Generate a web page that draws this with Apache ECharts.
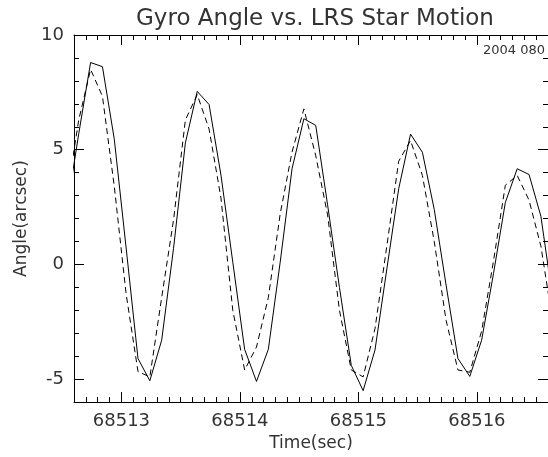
<!DOCTYPE html>
<html>
<head>
<meta charset="utf-8">
<script src="https://cdn.jsdelivr.net/npm/echarts@6/dist/echarts.min.js"></script>
<style>
html,body{margin:0;padding:0;background:#fff;}
#chart{width:548px;height:457px;}
</style>
</head>
<body>
<div id="chart"></div>
<script>
// Time samples (sec)
const times = [
  68512.54, 68512.64, 68512.74, 68512.84, 68512.94,
  68513.04, 68513.14, 68513.24, 68513.34, 68513.44,
  68513.54, 68513.64, 68513.74, 68513.84, 68513.94,
  68514.04, 68514.14, 68514.24, 68514.34, 68514.44,
  68514.54, 68514.64, 68514.74, 68514.84, 68514.94,
  68515.04, 68515.14, 68515.24, 68515.34, 68515.44,
  68515.54, 68515.64, 68515.74, 68515.84, 68515.94,
  68516.04, 68516.14, 68516.24, 68516.34, 68516.44,
  68516.54, 68516.64
];
// Gyro angle (solid line), arcsec
const gyroAngle = [
  2.4, 5.7, 8.8, 8.62, 5.46,
  0.72, -4.1, -5.07, -3.3, 0.7,
  5.3, 7.54, 6.97, 3.9, 0.1,
  -3.7, -5.1, -3.7, 0.1, 4.17,
  6.35, 6.06, 2.6, -1.0, -4.4,
  -5.5, -3.73, -0.2, 3.3, 5.68,
  4.89, 2.4, -0.9, -4.1, -4.88,
  -3.3, -0.4, 2.7, 4.17, 3.92,
  2.1, -1.5
];
// LRS star motion (dashed line), arcsec
const lrsMotion = [
  3.0, 6.3, 8.5, 7.33, 3.4,
  -1.29, -4.67, -4.9, -1.44, 1.94,
  6.3, 7.4, 5.9, 2.9, -2.0,
  -4.6, -3.6, -1.44, 2.2, 4.9,
  6.78, 4.74, 2.16, -2.0, -4.6,
  -4.9, -2.8, 0.8, 4.5, 5.4,
  3.88, 1.0, -2.44, -4.6, -4.7,
  -2.9, 0.15, 3.45, 3.88, 2.8,
  0.8, -2.5
];
const xRange = [68512.6, 68516.6];
const yRange = [-6, 10];
const titleText = 'Gyro Angle vs. LRS Star Motion';
const xName = 'Time(sec)';
const yName = 'Angle(arcsec)';
const dateTag = '2004 080';

const FONT = 'DejaVu Sans';
const TXT = '#333';
const pair = (xs, ys) => xs.map((x, i) => [x, ys[i]]);
const plain = v => String(Math.round(v * 1000) / 1000);

function axisBase(extra) {
  return Object.assign({
    axisLine: { show: true, onZero: false, lineStyle: { color: '#000', width: 1 } },
    axisTick: { show: true, inside: true, length: 10, lineStyle: { color: '#000', width: 1 } },
    splitLine: { show: false }
  }, extra);
}

const chart = echarts.init(document.getElementById('chart'), null, { renderer: 'canvas' });
chart.setOption({
  animation: false,
  backgroundColor: '#fff',
  grid: { left: 74, top: 35, width: 482, height: 370, containLabel: false },
  graphic: [
    { type: 'text', x: 315, y: 19,
      style: { text: titleText, font: '23px "' + FONT + '"', fill: TXT, textAlign: 'center', textVerticalAlign: 'middle' } },
    { type: 'text', x: 545, y: 51,
      style: { text: dateTag, font: '13px "' + FONT + '"', fill: TXT, textAlign: 'right', textVerticalAlign: 'middle' } }
  ],
  xAxis: [
    axisBase({
      type: 'value', position: 'bottom', min: xRange[0], max: xRange[1], splitNumber: 4,
      minorTick: { show: true, splitNumber: 10, length: 5, lineStyle: { color: '#000', width: 1 } },
      axisLabel: { show: true, margin: 10, color: TXT, fontFamily: FONT, fontSize: 18,
        showMinLabel: false, showMaxLabel: false, formatter: plain },
      name: xName, nameLocation: 'middle', nameGap: 32,
      nameTextStyle: { color: TXT, fontFamily: FONT, fontSize: 17 }
    }),
    axisBase({
      type: 'value', position: 'top', min: xRange[0], max: xRange[1], splitNumber: 4,
      minorTick: { show: true, splitNumber: 10, length: 5, lineStyle: { color: '#000', width: 1 } },
      axisLabel: { show: false }
    })
  ],
  yAxis: [
    axisBase({
      type: 'value', position: 'left', min: yRange[0], max: yRange[1], splitNumber: 3,
      minorTick: { show: true, splitNumber: 5, length: 5, lineStyle: { color: '#000', width: 1 } },
      axisLabel: { show: true, margin: 10, color: TXT, fontFamily: FONT, fontSize: 18,
        showMinLabel: false, showMaxLabel: true, formatter: plain },
      name: yName, nameLocation: 'middle', nameGap: 43,
      nameTextStyle: { color: TXT, fontFamily: FONT, fontSize: 17 }
    }),
    axisBase({
      type: 'value', position: 'right', min: yRange[0], max: yRange[1], splitNumber: 3,
      minorTick: { show: true, splitNumber: 5, length: 5, lineStyle: { color: '#000', width: 1 } },
      axisLabel: { show: false }
    })
  ],
  series: [
    { name: 'Gyro', type: 'line', xAxisIndex: 0, yAxisIndex: 0, data: pair(times, gyroAngle),
      showSymbol: false, symbol: 'none', clip: true,
      lineStyle: { color: '#000', width: 1, type: 'solid' } },
    { name: 'LRS', type: 'line', xAxisIndex: 0, yAxisIndex: 0, data: pair(times, lrsMotion),
      showSymbol: false, symbol: 'none', clip: true,
      lineStyle: { color: '#000', width: 1, type: [6, 4] } }
  ]
});
</script>
</body>
</html>
